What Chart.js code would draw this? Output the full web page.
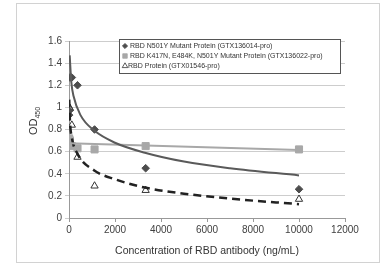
<!DOCTYPE html>
<html>
<head>
<meta charset="utf-8">
<script src="https://cdn.jsdelivr.net/npm/chart.js@4.4.1/dist/chart.umd.min.js"></script>
<style>
  html, body { margin: 0; padding: 0; background: #fff; }
  #wrap { width: 384px; height: 271px; position: relative; }
</style>
</head>
<body>
<div id="wrap"><canvas id="chart-elisa"></canvas></div>
<script>
// dilution series (ng/mL) and OD450 readings
const conc = [10000, 3333, 1111, 370, 123, 41, 14, 5];
const n501y = [0.26, 0.45, 0.80, 1.20, 1.27, 1.27, 0.97, 0.93];
const tripleMut = [0.62, 0.65, 0.62, 0.63, 0.65, 0.70, 0.71, 0.72];
const wildType = [0.17, 0.25, 0.29, 0.55, 0.84, 0.99, 1.00, 1.00];

// trend lines
const trendX1 = [30, 100, 200, 500, 1100, 2000, 3300, 5000, 7000, 10000];
const trendY1 = [1.47, 1.23, 1.10, 0.93, 0.79, 0.68, 0.59, 0.51, 0.45, 0.385];
const trendX2 = [10, 10000];
const trendY2 = [0.675, 0.615];
const trendX3 = [10, 40, 120, 370, 1100, 2000, 3300, 5000, 7000, 10000];
const trendY3 = [1.07, 0.88, 0.73, 0.58, 0.43, 0.35, 0.275, 0.22, 0.175, 0.125];

const xTicks = [0, 2000, 4000, 6000, 8000, 10000, 12000];
const yTicks = [0, 0.2, 0.4, 0.6, 0.8, 1, 1.2, 1.4, 1.6];
const legendLabels = [
  'RBD N501Y Mutant Protein (GTX136014-pro)',
  'RBD K417N, E484K, N501Y Mutant Protein (GTX136022-pro)',
  'RBD Protein (GTX01546-pro)'
];

const pts = (xs, ys) => xs.map((x, i) => ({x: x, y: ys[i]}));
const FONT = '"Liberation Sans", Arial, sans-serif';

const deco = {
  id: 'deco',
  beforeDraw(chart) {
    const c = chart.ctx;
    c.save();
    c.fillStyle = '#fff';
    c.fillRect(0, 0, chart.width, chart.height);
    c.strokeStyle = '#d2d2d2';
    c.lineWidth = 1;
    c.strokeRect(16.5, 3.5, 363, 259);
    c.restore();
  },
  afterDraw(chart) {
    const c = chart.ctx;
    c.save();
    // legend box
    c.fillStyle = '#fff';
    c.fillRect(119, 39, 221, 34);
    c.strokeStyle = '#555';
    c.lineWidth = 1;
    c.strokeRect(119.5, 39.5, 221, 34);
    c.font = '7px ' + FONT;
    c.textBaseline = 'middle';
    c.fillStyle = '#333';
    const rows = [46, 56, 66];
    const styles = [
      {pointStyle: 'rectRot', radius: 2.6, fill: '#4d4d4d', stroke: '#4d4d4d'},
      {pointStyle: 'rect', radius: 3.2, fill: '#a8a8a8', stroke: '#a8a8a8'},
      {pointStyle: 'triangle', radius: 3.2, fill: '#fff', stroke: '#333'}
    ];
    legendLabels.forEach((t, i) => {
      c.fillStyle = styles[i].fill;
      c.strokeStyle = styles[i].stroke;
      c.lineWidth = 0.8;
      Chart.helpers.drawPoint(c, {pointStyle: styles[i].pointStyle, radius: styles[i].radius, borderWidth: 0.8}, 125, rows[i]);
      c.fillStyle = '#333';
      c.fillText(t, i == 2 ? 128 : 130, rows[i]);
    });
    // y axis title OD450
    c.translate(34, 121);
    c.rotate(-Math.PI / 2);
    c.fillStyle = '#333';
    c.font = '11px ' + FONT;
    const w1 = c.measureText('OD').width;
    c.font = '7px ' + FONT;
    const w2 = c.measureText('450').width;
    const x0 = -(w1 + w2) / 2;
    c.textAlign = 'left';
    c.font = '11px ' + FONT;
    c.fillText('OD', x0, 0);
    c.font = '7px ' + FONT;
    c.fillText('450', x0 + w1, 4);
    c.restore();
  }
};

new Chart(document.getElementById('chart-elisa'), {
  type: 'scatter',
  data: {
    datasets: [
      {
        label: 'trend1', data: pts(trendX1, trendY1), showLine: true,
        borderColor: '#5a5a5a', borderWidth: 2, pointRadius: 0,
        cubicInterpolationMode: 'monotone'
      },
      {
        label: 'trend2', data: pts(trendX2, trendY2), showLine: true,
        borderColor: '#a8a8a8', borderWidth: 2, pointRadius: 0
      },
      {
        label: 'trend3', data: pts(trendX3, trendY3), showLine: true,
        borderColor: '#222', borderWidth: 2.5, borderDash: [8, 5], pointRadius: 0,
        cubicInterpolationMode: 'monotone'
      },
      {
        label: legendLabels[1], data: pts(conc, tripleMut),
        pointStyle: 'rect', pointRadius: 5, backgroundColor: '#a8a8a8', borderColor: '#a8a8a8'
      },
      {
        label: legendLabels[0], data: pts(conc, n501y),
        pointStyle: 'rectRot', pointRadius: 3.8, backgroundColor: '#4d4d4d', borderColor: '#4d4d4d'
      },
      {
        label: legendLabels[2], data: pts(conc, wildType),
        pointStyle: 'triangle', pointRadius: 4.2, backgroundColor: '#fff', borderColor: '#333', borderWidth: 1
      }
    ]
  },
  options: {
    responsive: true,
    maintainAspectRatio: false,
    animation: false,
    layout: { padding: { top: 41, right: 39, left: 0, bottom: 0 } },
    plugins: {
      legend: { display: false },
      tooltip: { enabled: false }
    },
    scales: {
      x: {
        type: 'linear', min: 0, max: 12000,
        afterFit: s => { s.height = 53; },
        afterBuildTicks: s => { s.ticks = xTicks.map(v => ({value: v})); },
        grid: { display: true, drawOnChartArea: false, drawTicks: true, tickLength: 4, color: '#999' },
        border: { color: '#999' },
        ticks: {
          padding: 2, color: '#404040', maxRotation: 0,
          font: { size: 10, family: FONT },
          callback: v => String(v)
        },
        title: {
          display: true, text: 'Concentration of RBD antibody (ng/mL)',
          color: '#333', font: { size: 10.5, family: FONT },
          padding: { top: 0, bottom: 14 }
        }
      },
      y: {
        min: 0, max: 1.6,
        afterFit: s => { s.width = 69; },
        afterBuildTicks: s => { s.ticks = yTicks.map(v => ({value: v})); },
        grid: { color: '#cdcdcd', tickLength: 4, drawTicks: true },
        border: { color: '#999' },
        ticks: {
          padding: 3, color: '#404040',
          font: { size: 10, family: FONT },
          callback: v => String(+v.toFixed(1))
        }
      }
    }
  },
  plugins: [deco]
});
</script>
</body>
</html>
